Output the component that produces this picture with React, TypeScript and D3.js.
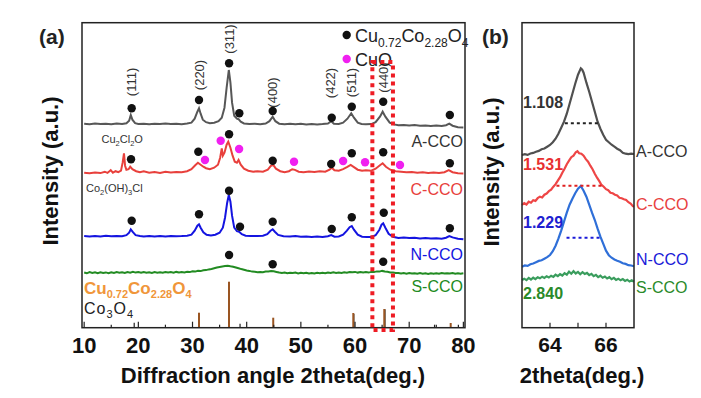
import React from "react";
import * as d3 from "d3";

type P = [number, number];

// ---------- data (2theta, intensity in arbitrary units) ----------
const xTicksA = [10, 20, 30, 40, 50, 60, 70, 80];
const xMinorA = [15, 25, 35, 45, 55, 65, 75];
const xTicksB = [64, 66];
const xMinorB = [65];

const aCCO: P[] = [
  [10, 204], [11, 203.5], [12, 204.2], [13, 203.6], [14, 204], [15, 203.4], [16, 204.1], [17, 203.7],
  [17.8, 204.5], [18.3, 207], [18.6, 212.7], [18.9, 208], [19.4, 204.5], [20, 203.8], [21, 204], [22, 203.5],
  [23, 204], [24, 203.6], [25, 204.2], [26, 203.8], [27, 204], [28, 203.5], [29, 204.2], [29.8, 205],
  [30.4, 209], [30.9, 216], [31.2, 219.4], [31.5, 214], [31.9, 208], [32.5, 205.5], [33.2, 204.5], [34, 205],
  [34.8, 206.5], [35.4, 210], [35.9, 220], [36.3, 240], [36.7, 257.7], [37.0, 245], [37.3, 225], [37.7, 212],
  [38.2, 209], [38.5, 208.5], [38.9, 206], [39.5, 204.3], [40.5, 203.8], [41.5, 204], [42.5, 203.5], [43.5, 204.2],
  [44.2, 206.5], [44.8, 211], [45.3, 206.5], [46, 204], [47, 203.5], [48, 204], [49, 203.4], [50, 203.9],
  [51, 203.3], [52, 203.8], [53, 203.2], [54, 203.6], [55, 204.2], [55.6, 206.5], [56.1, 204], [57, 203.8],
  [57.8, 205], [58.6, 209], [59.3, 214.4], [59.8, 210], [60.5, 205], [61.2, 203.8], [62, 203.5], [63, 203.6],
  [63.8, 205.5], [64.6, 211], [65.1, 216], [65.6, 211], [66.4, 205], [67.2, 203.3], [68, 202.5], [69, 202.8],
  [70, 202.2], [71, 202.6], [72, 202], [73, 202.3], [74, 201.8], [75, 202.2], [76, 201.6], [76.8, 202.5],
  [77.4, 204], [78, 202], [79, 200.5], [80, 200.3],
];

const cCCO: P[] = [
  [10, 155], [11, 154.4], [12, 155.3], [13, 154.6], [13.8, 156], [14.3, 154.8], [14.9, 157.5], [15.3, 155],
  [15.8, 156.5], [16.3, 155.5], [16.8, 157], [17.1, 165], [17.35, 174.4], [17.55, 162], [17.8, 158], [18.2, 158.5],
  [18.5, 161], [18.9, 158.5], [19.6, 156.5], [20.3, 155.5], [21, 156.5], [22, 155], [23, 155.8], [24, 154.8],
  [25, 156], [26, 155.2], [27, 155.8], [28, 155.5], [29, 156.5], [29.8, 158.5], [30.5, 162.5], [31.0, 165],
  [31.5, 163], [32.0, 161], [32.5, 159.5], [33.2, 158.5], [34.0, 160], [34.7, 163], [35.1, 170], [35.4, 179.4],
  [35.6, 172], [35.9, 175], [36.3, 183], [36.6, 186], [37.0, 180], [37.4, 172], [37.8, 166], [38.2, 165],
  [38.5, 167.7], [38.9, 163], [39.5, 159], [40.3, 157], [41.2, 156], [42, 156.5], [43, 156], [43.9, 158],
  [44.5, 162], [44.9, 162.7], [45.4, 159], [46.2, 156.5], [47, 155.5], [47.8, 156.5], [48.4, 158.5], [48.9, 157.8],
  [49.6, 156], [50.5, 155.5], [51.5, 156.3], [52.5, 155.6], [53.5, 156.5], [54.5, 156], [55.3, 158], [55.7, 160],
  [56.2, 157.5], [57, 157], [57.8, 158.5], [58.5, 160.5], [59.2, 162.7], [59.8, 160.5], [60.5, 158], [61.3, 157],
  [62, 157.5], [63, 157], [63.8, 159], [64.6, 162.5], [65.1, 164.4], [65.7, 161], [66.5, 158], [67.5, 156.5],
  [68.5, 156], [69.5, 155.5], [70.5, 155.8], [71.5, 155], [72.5, 155.5], [73.5, 154.8], [74.5, 155.3], [75.5, 154.7],
  [76.5, 155.5], [77.3, 157.5], [78, 155.5], [79, 154.5], [80, 154.3],
];

const nCCO: P[] = [
  [10, 91.7], [11, 91.2], [12, 91.8], [13, 91.3], [14, 91.9], [15, 91.4], [16, 91.7], [17, 91.5],
  [17.8, 92.5], [18.3, 95], [18.6, 98.4], [19.0, 95.5], [19.5, 92.5], [20.3, 91.6], [21, 91.3], [22, 91.8],
  [23, 91.2], [24, 91.6], [25, 91.1], [26, 91.7], [27, 91.4], [28, 91.6], [29, 92], [29.8, 93],
  [30.4, 97], [30.9, 102], [31.2, 103.4], [31.5, 100], [32, 95.5], [32.6, 93], [33.4, 92.2], [34.2, 93],
  [35, 95], [35.6, 100], [36.0, 110], [36.4, 125], [36.7, 132.7], [37.0, 126], [37.3, 112], [37.7, 100],
  [38.2, 96.5], [38.6, 96], [39.1, 93.5], [39.8, 92], [40.8, 91.6], [42, 91.8], [43, 92], [43.8, 93.5],
  [44.4, 97], [44.8, 98.4], [45.2, 96], [45.8, 92.8], [46.8, 91.4], [48, 91.2], [49, 91.6], [50, 91],
  [51, 91.3], [52, 90.8], [53, 91.1], [54, 90.6], [55, 91.5], [55.6, 92.7], [56.2, 91], [57, 91.2],
  [57.8, 93], [58.5, 97], [59.0, 100.5], [59.4, 101.7], [59.8, 98], [60.5, 93], [61.3, 91], [62.2, 90.6],
  [63, 90.8], [63.8, 92.5], [64.5, 98], [64.9, 103], [65.2, 104.4], [65.6, 100], [66.2, 94], [67, 91],
  [68, 89.8], [69, 90.2], [70, 89.6], [71, 89.9], [72, 89.3], [73, 89.6], [74, 89.1], [75, 89.4],
  [76, 89], [76.8, 90], [77.4, 91.7], [78, 90.3], [79, 89], [80, 88.4],
];

const sCCO: P[] = [
  [10, 55.2], [10.5, 54.4], [11, 55.6], [11.5, 54.7], [12, 55.4], [12.5, 54.5], [13, 55.5], [13.5, 54.8],
  [14, 55.3], [14.5, 54.6], [15, 55.5], [15.5, 54.8], [16, 55.7], [16.5, 54.9], [17, 55.4], [17.5, 54.8],
  [18, 55.6], [18.5, 55], [19, 55.8], [19.5, 55.1], [20, 55.6], [20.5, 54.9], [21, 55.7], [21.5, 55],
  [22, 55.4], [22.5, 54.8], [23, 55.6], [23.5, 55], [24, 55.5], [24.5, 54.9], [25, 55.7], [25.5, 55.1],
  [26, 55.6], [26.5, 55], [27, 55.8], [27.5, 55.2], [28, 55.7], [28.5, 55.3], [29, 56], [29.5, 55.6],
  [30, 56.4], [30.5, 56.1], [31, 57], [31.5, 56.6], [32, 57.5], [32.5, 57.6], [33, 58.3], [33.5, 58.8],
  [34, 59.5], [34.5, 60.2], [35, 60.8], [35.5, 61.3], [36, 61.7], [36.5, 61.9], [37, 61.4], [37.5, 61],
  [38, 60.2], [38.5, 59.4], [39, 58.6], [39.5, 58], [40, 57.3], [40.5, 56.8], [41, 56.1], [41.5, 55.9],
  [42, 55.4], [42.5, 55.8], [43, 55.5], [43.5, 56.2], [44, 56.3], [44.5, 56.8], [45, 56.4], [45.5, 55.8],
  [46, 55.2], [46.5, 54.8], [47, 55.1], [47.5, 54.4], [48, 55], [48.5, 54.6], [49, 55.1], [49.5, 54.3],
  [50, 54.9], [50.5, 54.4], [51, 55], [51.5, 54.3], [52, 54.8], [52.5, 54.2], [53, 54.9], [53.5, 54.4],
  [54, 55], [54.5, 54.5], [55, 55.2], [55.5, 54.7], [56, 55.4], [56.5, 54.8], [57, 55.3], [57.5, 54.7],
  [58, 55.4], [58.5, 55], [59, 55.7], [59.5, 55.5], [60, 55.8], [60.5, 55.1], [61, 55.7], [61.5, 55.2],
  [62, 55.6], [62.5, 55.1], [63, 55.8], [63.5, 55.6], [64, 56.3], [64.5, 56.1], [65, 56.8], [65.5, 56.2],
  [66, 56], [66.5, 55.3], [67, 55.2], [67.5, 54.6], [68, 54.8], [68.5, 54.2], [69, 54.6], [69.5, 54],
  [70, 54.7], [70.5, 54.1], [71, 54.5], [71.5, 53.9], [72, 54.6], [72.5, 54], [73, 54.4], [73.5, 53.8],
  [74, 54.5], [74.5, 54], [75, 54.4], [75.5, 53.9], [76, 54.6], [76.5, 54.1], [77, 54.5], [77.5, 54.2],
  [78, 54.7], [78.5, 54], [79, 54.5], [79.5, 54], [80, 54.4],
];

// reference stick patterns
const sticksCu: P[] = [[31.2, 15], [36.74, 46], [44.9, 10], [59.68, 14.7], [65.4, 18.7], [77.66, 4.7]];
const sticksCo: P[] = [[18.96, 5], [38.5, 4], [59.5, 13.7], [65.25, 18.4], [74.4, 3], [78.8, 3]];

// phase markers
const dotsA: P[] = [[18.77, 219.4], [31.2, 227.7], [36.75, 264.4], [38.64, 214.4], [44.8, 216.7], [55.7, 210], [59.4, 221], [65.2, 226], [77.5, 212.7]];
const dotsC: P[] = [[18.65, 168.4], [31.07, 176], [36.75, 193.4], [44.8, 167], [55.6, 163.7], [59.4, 174.4], [65.2, 175.4], [77.5, 164.4]];
const dotsCuO: P[] = [[32.3, 167.7], [35.2, 187], [38.6, 178.7], [48.74, 166], [57.8, 166.7], [61.85, 165.4], [68.3, 162.7]];
const dotsN: P[] = [[18.77, 107], [31.2, 113.4], [36.75, 137], [38.77, 101], [44.8, 106], [55.7, 98.7], [59.4, 110.4], [65.3, 115], [77.5, 99.4]];
const dotsS: P[] = [[36.75, 72.7], [44.8, 63.4], [65.2, 66]];

const millerLabels: [string, number, number][] = [
  ["(111)", 18.77, 245.7], ["(220)", 31.38, 252.7], ["(311)", 36.9, 288.7], ["(400)", 44.8, 235.2],
  ["(422)", 55.4, 244.7], ["(511)", 59.4, 245.2], ["(440)", 65.2, 250.2],
];

// zoom window marked on panel (a)
const zoomWindow = { x0: 63.2, x1: 67.0, y0: -2.3, y1: 265.7 };

// panel (b)
const aB: P[] = [
  [63.0, 172.7], [63.1, 173.5], [63.2, 172.8], [63.3, 174.2], [63.4, 174.8], [63.5, 176], [63.6, 176.8], [63.7, 178.5],
  [63.8, 179.2], [63.9, 181], [64.0, 182.7], [64.1, 185.5], [64.2, 189], [64.3, 194], [64.4, 200], [64.5, 206],
  [64.6, 214], [64.7, 224], [64.8, 234], [64.9, 244], [65.0, 253], [65.1, 259.4], [65.15, 258], [65.2, 255],
  [65.3, 245], [65.4, 236], [65.5, 226], [65.6, 216], [65.7, 206], [65.8, 199], [65.9, 193], [66.0, 188],
  [66.1, 185.5], [66.2, 183], [66.3, 181], [66.4, 179], [66.5, 177.5], [66.6, 175], [66.7, 174], [66.8, 173.5],
  [66.9, 174], [67.0, 173.7],
];
const cB: P[] = [
  [63.0, 122.7], [63.08, 124.5], [63.16, 123.2], [63.24, 126], [63.32, 125], [63.4, 127.5], [63.48, 126.8], [63.56, 129.5],
  [63.64, 131], [63.72, 130.2], [63.8, 133], [63.88, 134.2], [63.96, 136.5], [64.04, 138], [64.12, 141], [64.2, 143.5],
  [64.28, 147], [64.36, 150.5], [64.44, 155], [64.52, 159], [64.6, 163.5], [64.68, 167], [64.76, 170.5], [64.84, 172],
  [64.92, 175.5], [64.98, 176.5], [65.04, 174.5], [65.12, 174], [65.2, 172], [65.28, 168.5], [65.36, 166], [65.44, 162],
  [65.52, 158.5], [65.6, 154], [65.68, 150], [65.76, 146.5], [65.84, 142.7], [65.92, 141], [66.0, 138.5], [66.08, 137.5],
  [66.16, 135], [66.24, 134.4], [66.32, 133], [66.4, 132.2], [66.48, 130], [66.56, 129.5], [66.64, 128.5], [66.72, 127.7],
  [66.8, 125.5], [66.88, 124.2], [66.96, 121.5], [67.0, 121],
];
const nB: P[] = [
  [63.0, 61], [63.1, 62.2], [63.2, 61.8], [63.3, 63.5], [63.4, 64.2], [63.5, 65.5], [63.6, 66.8], [63.7, 67.5],
  [63.8, 69], [63.9, 70.5], [64.0, 72.7], [64.1, 76.5], [64.2, 82], [64.3, 89], [64.4, 97], [64.5, 106],
  [64.6, 115], [64.7, 123], [64.8, 129], [64.9, 134.5], [65.0, 139], [65.1, 141.7], [65.2, 137], [65.3, 131],
  [65.4, 123], [65.5, 115], [65.6, 107.7], [65.7, 99], [65.8, 91], [65.9, 84], [66.0, 77], [66.1, 72.5],
  [66.2, 70], [66.3, 68.2], [66.4, 67], [66.5, 66], [66.6, 64.5], [66.7, 63.8], [66.8, 62.5], [66.9, 62.2],
  [67.0, 61.5],
];
const sB: P[] = [
  [63.0, 47.7], [63.08, 49], [63.16, 47.5], [63.24, 49.8], [63.32, 48.2], [63.4, 50], [63.48, 48.6], [63.56, 50.5],
  [63.64, 49.4], [63.72, 51], [63.8, 49.8], [63.88, 51.5], [63.96, 50.2], [64.04, 52], [64.12, 50.8], [64.2, 53],
  [64.28, 51.6], [64.36, 53.5], [64.44, 52.2], [64.52, 54.5], [64.6, 53], [64.68, 56], [64.76, 54], [64.84, 56.5],
  [64.92, 54.2], [65.0, 55.8], [65.08, 53.5], [65.16, 55.5], [65.24, 53.8], [65.32, 54.8], [65.4, 52.6], [65.48, 53.8],
  [65.56, 51.5], [65.64, 52.8], [65.72, 50.6], [65.8, 52], [65.88, 50], [65.96, 51.2], [66.04, 49.2], [66.12, 50.5],
  [66.2, 48.5], [66.28, 49.8], [66.36, 47.8], [66.44, 49], [66.52, 47.4], [66.6, 48.6], [66.68, 46.8], [66.76, 48],
  [66.84, 46.2], [66.92, 47.4], [67.0, 46],
];
// FWHM markers [x0, x1, level]
const fwhmA: [number, number, number] = [64.53, 65.74, 204.4];
const fwhmC: [number, number, number] = [64.23, 65.84, 142];
const fwhmN: [number, number, number] = [64.59, 65.84, 90];
const fwhmValues = ["1.108", "1.531", "1.229", "2.840"];
const sampleNames = ["A-CCO", "C-CCO", "N-CCO", "S-CCO"];

// ---------- styles ----------
const FONT = "Arial, 'Liberation Sans', sans-serif";
const colA = { gray: "#575757", red: "#e8403c", blue: "#1414e0", green: "#228b22" };
const colB = { gray: "#505050", red: "#ee4646", blue: "#2f6fd8", green: "#3a9d5d" };
const nameColA = ["#333", "#e8403c", "#1414e0", "#228b22"];

const PA = { left: 82, right: 465, top: 22.7, bottom: 327.7 };
const PB = { left: 522, right: 634, top: 22.7, bottom: 327.7 };

export default function App() {
  const xA = d3.scaleLinear().domain([9.6, 80.3]).range([PA.left, PA.right]);
  const xB = d3.scaleLinear().domain([63, 67]).range([PB.left, PB.right]);
  const y = d3.scaleLinear().domain([0, 305]).range([PA.bottom, PA.top]);

  const lineA = d3.line<P>().x((d) => xA(d[0])).y((d) => y(d[1]));
  const lineB = d3.line<P>().x((d) => xB(d[0])).y((d) => y(d[1]));

  const dot = (pts: P[], fill: string, key: string) =>
    pts.map((d, i) => <circle key={key + i} cx={xA(d[0])} cy={y(d[1])} r={4.2} fill={fill} />);

  const sub = (t: string, size: number, shift: number) => (
    <tspan fontSize={size} dy={shift}>{t}</tspan>
  );

  return (
    <svg width={701} height={398} style={{ position: "absolute", left: 0, top: 0, background: "#fff" }} fontFamily={FONT}>
      <rect x={0} y={0} width={701} height={398} fill="#fff" />

      {/* ===== Panel (a) ===== */}
      <text x={39} y={44} fontSize={21} fontWeight="bold" fill="#222">(a)</text>

      {/* traces */}
      <path d={lineA(sCCO) || ""} fill="none" stroke={colA.green} strokeWidth={2} />
      <path d={lineA(nCCO) || ""} fill="none" stroke={colA.blue} strokeWidth={2} />
      <path d={lineA(cCCO) || ""} fill="none" stroke={colA.red} strokeWidth={2} />
      <path d={lineA(aCCO) || ""} fill="none" stroke={colA.gray} strokeWidth={2} />

      {/* sticks */}
      {sticksCo.map((d, i) => (
        <line key={"co" + i} x1={xA(d[0]) + 1.5} x2={xA(d[0]) + 1.5} y1={y(0)} y2={y(d[1])} stroke="#222" strokeWidth={1.2} />
      ))}
      {sticksCu.map((d, i) => (
        <line key={"cu" + i} x1={xA(d[0])} x2={xA(d[0])} y1={y(0)} y2={y(d[1])} stroke="#9a5522" strokeWidth={2} />
      ))}

      {/* markers */}
      {dot(dotsA, "#111", "da")}
      {dot(dotsC, "#111", "dc")}
      {dot(dotsCuO, "#f020f0", "dm")}
      {dot(dotsN, "#111", "dn")}
      {dot(dotsS, "#111", "ds")}

      {millerLabels.map(([t, x, v]) => (
        <text key={t} transform={`translate(${xA(x) + 4.5},${y(v)}) rotate(-90)`} textAnchor="middle" fontSize={13} fill="#333">{t}</text>
      ))}

      {/* annotations */}
      <text x={101.5} y={143.3} fontSize={11} fill="#333">
        Cu{sub("2", 7.5, 3)}<tspan dy={-3}>Cl</tspan>{sub("2", 7.5, 3)}<tspan dy={-3}>O</tspan>
      </text>
      <text x={86} y={191.7} fontSize={11} fill="#333">
        Co{sub("2", 7.5, 3)}<tspan dy={-3}>(OH)</tspan>{sub("3", 7.5, 3)}<tspan dy={-3}>Cl</tspan>
      </text>

      {/* legend */}
      <circle cx={346.7} cy={35} r={4.2} fill="#111" />
      <text x={355} y={42} fontSize={18} fill="#222">
        Cu{sub("0.72", 12, 5)}<tspan dy={-5}>Co</tspan>{sub("2.28", 12, 5)}<tspan dy={-5}>O</tspan>{sub("4", 12, 5)}
      </text>
      <circle cx={346.7} cy={59} r={4.2} fill="#f020f0" />
      <text x={355} y={66} fontSize={18} fill="#222">CuO</text>

      <text x={84} y={294} fontSize={17} fontWeight="bold" fill="#f0963a">
        Cu{sub("0.72", 11, 3.5)}<tspan dy={-3.5}>Co</tspan>{sub("2.28", 11, 3.5)}<tspan dy={-3.5}>O</tspan>{sub("4", 11, 3.5)}
      </text>
      <text x={84} y={313.5} fontSize={16} fill="#222" letterSpacing={1}>
        Co{sub("3", 11, 4)}<tspan dy={-4}>O</tspan>{sub("4", 11, 4)}
      </text>

      {/* sample names */}
      {[147, 195, 260, 292].map((yy, i) => (
        <text key={"na" + i} x={463} y={yy} textAnchor="end" fontSize={16} fill={nameColA[i]}>{sampleNames[i]}</text>
      ))}

      {/* frame + ticks */}
      <rect x={PA.left} y={PA.top} width={PA.right - PA.left} height={PA.bottom - PA.top} fill="none" stroke="#222" strokeWidth={1.5} />
      {xTicksA.map((t) => (
        <g key={"ta" + t}>
          <line x1={xA(t)} x2={xA(t)} y1={PA.bottom} y2={PA.bottom - 6} stroke="#222" strokeWidth={1.2} />
          <text x={xA(t)} y={353.3} textAnchor="middle" fontSize={22} fontWeight="bold" fill="#111">{t}</text>
        </g>
      ))}
      {xMinorA.map((t) => (
        <line key={"ma" + t} x1={xA(t)} x2={xA(t)} y1={PA.bottom} y2={PA.bottom - 3} stroke="#222" strokeWidth={1.2} />
      ))}

      {/* zoom window */}
      <rect x={xA(zoomWindow.x0)} y={y(zoomWindow.y1)} width={xA(zoomWindow.x1) - xA(zoomWindow.x0)}
        height={y(zoomWindow.y0) - y(zoomWindow.y1)} fill="none" stroke="#ee1c24" strokeWidth={4} strokeDasharray="4 4" />

      <text x={273} y={383} textAnchor="middle" fontSize={22} fontWeight="bold" fill="#111">Diffraction angle 2theta(deg.)</text>
      <text transform="translate(58,171) rotate(-90)" textAnchor="middle" fontSize={22} fontWeight="bold" fill="#111">Intensity (a.u.)</text>

      {/* ===== Panel (b) ===== */}
      <text x={482} y={44} fontSize={21} fontWeight="bold" fill="#222">(b)</text>
      <path d={lineB(sB) || ""} fill="none" stroke={colB.green} strokeWidth={2.2} />
      <path d={lineB(nB) || ""} fill="none" stroke={colB.blue} strokeWidth={2.2} />
      <path d={lineB(cB) || ""} fill="none" stroke={colB.red} strokeWidth={2.2} />
      <path d={lineB(aB) || ""} fill="none" stroke={colB.gray} strokeWidth={2.2} />

      {[[fwhmA, "#222"], [fwhmC, "#e02020"], [fwhmN, "#1a1ad8"]].map(([f, c], i) => {
        const ff = f as [number, number, number];
        return (
          <line key={"fw" + i} x1={xB(ff[0])} x2={xB(ff[1])} y1={y(ff[2])} y2={y(ff[2])}
            stroke={c as string} strokeWidth={2} strokeDasharray="3 3" />
        );
      })}

      {[108, 170, 228, 299.3].map((yy, i) => (
        <text key={"fv" + i} x={523} y={yy} fontSize={16} fontWeight="bold"
          fill={["#333", "#e83030", "#2020d0", "#2a8a2a"][i]}>{fwhmValues[i]}</text>
      ))}
      {[157, 210, 265, 293].map((yy, i) => (
        <text key={"nb" + i} x={636} y={yy} fontSize={16}
          fill={["#333", "#e84040", "#1a1ad8", "#2a8a2a"][i]}>{sampleNames[i]}</text>
      ))}

      <rect x={PB.left} y={PB.top} width={PB.right - PB.left} height={PB.bottom - PB.top} fill="none" stroke="#222" strokeWidth={1.5} />
      {xTicksB.map((t) => (
        <g key={"tb" + t}>
          <line x1={xB(t)} x2={xB(t)} y1={PB.bottom} y2={PB.bottom - 5} stroke="#222" strokeWidth={1.2} />
          <text x={xB(t)} y={352} textAnchor="middle" fontSize={21} fontWeight="bold" fill="#111">{t}</text>
        </g>
      ))}
      {xMinorB.map((t) => (
        <line key={"mb" + t} x1={xB(t)} x2={xB(t)} y1={PB.bottom} y2={PB.bottom - 5} stroke="#222" strokeWidth={1.2} />
      ))}
      <text x={582} y={383} textAnchor="middle" fontSize={22} fontWeight="bold" fill="#111">2theta(deg.)</text>
      <text transform="translate(499,172) rotate(-90)" textAnchor="middle" fontSize={22} fontWeight="bold" fill="#111">Intensity (a.u.)</text>
    </svg>
  );
}
